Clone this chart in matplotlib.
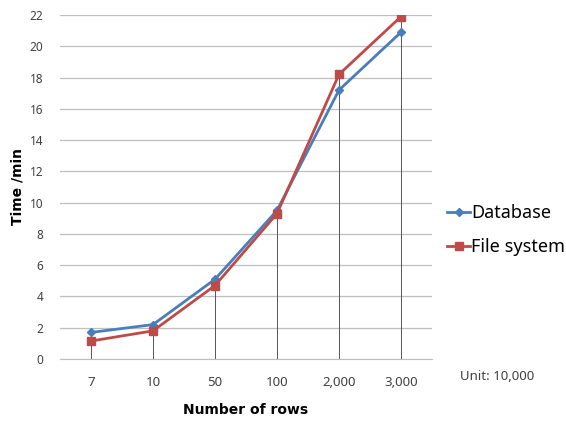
import matplotlib
matplotlib.use("Agg")
import matplotlib.pyplot as plt
import numpy as np

plt.rcParams['font.family'] = ['Noto Sans', 'DejaVu Sans']

# data
rows = ['7', '10', '50', '100', '2,000', '3,000']
database = [1.7, 2.2, 5.1, 9.5, 17.2, 20.9]
file_system = [1.15, 1.8, 4.7, 9.3, 18.2, 21.9]

fig = plt.figure(figsize=(5.66, 4.21), dpi=100)
# plot area in pixels: x 60..432, y 15..359
ax = fig.add_axes([60/566, 1 - 359/421, 372/566, 344/421])

x = np.arange(len(rows)) + 0.5

# drop lines
top = np.maximum(database, file_system)
ax.vlines(x, 0, top, color='#555555', lw=0.7, zorder=2)

ax.plot(x, database, color='#4a7ebb', lw=2, marker='D', ms=4.5, label='Database', zorder=3)
ax.plot(x, file_system, color='#be4b48', lw=2, marker='s', ms=6, label='File system', zorder=3)

ax.set_xlim(0, 6)
ax.set_ylim(0, 22)
ax.set_yticks(range(0, 23, 2))
ax.yaxis.grid(True, color='#bfbfbf', lw=0.9)
ax.set_axisbelow(True)
for s in ['top', 'right', 'left']:
    ax.spines[s].set_visible(False)
ax.spines['bottom'].set_color('#bfbfbf')
ax.tick_params(axis='y', length=0, labelsize=8.5, colors='#404040', pad=12)
ax.tick_params(axis='x', length=0, labelsize=9.5, colors='#404040', pad=12)
ax.set_xticks(x)
ax.set_xticklabels(rows)

ax.set_ylabel('Time /min', fontsize=10, fontweight='bold', family='DejaVu Sans')
ax.yaxis.set_label_coords(-0.095, 0.5)
ax.set_xlabel('Number of rows', fontsize=10, fontweight='bold', family='DejaVu Sans')
ax.xaxis.set_label_coords(0.5, -0.128)

fig.text(460/566, 1 - 377/421, 'Unit: 10,000', fontsize=9.5, color='#404040', va='center')

fig.legend(loc='center left', bbox_to_anchor=(447/566, 1 - 230/421), frameon=False, fontsize=13,
           handlelength=1.3, handletextpad=0.05, labelspacing=0.9, borderaxespad=0,
           borderpad=0)

fig.savefig('out.png', dpi=100)
